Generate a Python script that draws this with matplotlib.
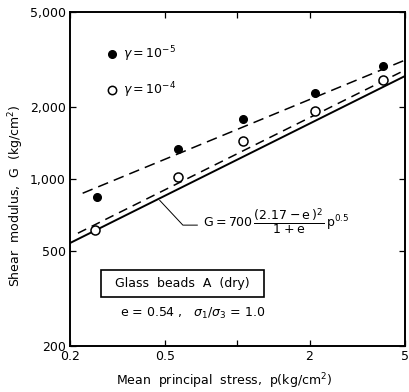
import numpy as np
import matplotlib
matplotlib.use("Agg")
import matplotlib.pyplot as plt
from matplotlib.patches import Rectangle
from matplotlib.ticker import FixedLocator, NullLocator, FixedFormatter

# ── data ──────────────────────────────────────────────────────────────────
p_filled = [0.259, 0.564, 1.05, 2.10, 4.07]      # gamma = 1e-5
G_filled = [840, 1334, 1782, 2290, 2970]
p_open = [0.254, 0.564, 1.06, 2.10, 4.07]        # gamma = 1e-4
G_open = [611, 1019, 1442, 1924, 2594]

# fitted lines (end points)
fit_filled_p = [0.226, 5.0]
fit_filled_G = [873, 3148]
fit_open_p = [0.216, 5.0]
fit_open_G = [594, 2860]
eq_p = [0.2, 5.0]
eq_G = [540, 2700]

# leader from the solid line to the equation
leader_p = [0.474, 0.592, 0.68]
leader_G = [815, 642, 642]

x_ticks = [0.2, 0.5, 1, 2, 5]
x_labels = ["0.2", "0.5", "", "2", "5"]
y_ticks = [200, 500, 1000, 2000, 5000]
y_labels = ["200", "500", "1,000", "2,000", "5,000"]

# ── figure ────────────────────────────────────────────────────────────────
fig = plt.figure(figsize=(4.09, 3.92), dpi=100)
ax = fig.add_axes([0.171, 0.117, 0.819, 0.852])
ax.set_xscale("log")
ax.set_yscale("log")
ax.set_xlim(0.2, 5)
ax.set_ylim(200, 5000)

ax.plot(eq_p, eq_G, color="black", lw=1.4)
ax.plot(fit_filled_p, fit_filled_G, color="black", lw=1.1, dashes=(7, 4))
ax.plot(fit_open_p, fit_open_G, color="black", lw=1.1, dashes=(6, 4))
ax.plot(p_filled, G_filled, "o", color="black", ms=5.5, zorder=3)
ax.plot(p_open, G_open, "o", mfc="white", mec="black", mew=1.1, ms=6.5, zorder=3)
ax.plot(leader_p, leader_G, color="black", lw=0.7)

ax.xaxis.set_major_locator(FixedLocator(x_ticks))
ax.xaxis.set_major_formatter(FixedFormatter(x_labels))
ax.xaxis.set_minor_locator(NullLocator())
ax.yaxis.set_major_locator(FixedLocator(y_ticks))
ax.yaxis.set_major_formatter(FixedFormatter(y_labels))
ax.yaxis.set_minor_locator(NullLocator())
ax.tick_params(direction="in", length=4, width=0.9, labelsize=9,
               top=True, right=True, pad=3)
for s in ax.spines.values():
    s.set_linewidth(1.4)

ax.set_xlabel(r"Mean  principal  stress,  p(kg/cm$^2$)", fontsize=9)
ax.set_ylabel(r"Shear  modulus,  G  (kg/cm$^2$)", fontsize=9)
ax.yaxis.set_label_coords(-0.13, 0.45)
ax.xaxis.set_label_coords(0.46, -0.075)

# legend
ax.plot([0.125], [0.874], "o", color="black", ms=5.5, transform=ax.transAxes)
ax.plot([0.125], [0.766], "o", mfc="white", mec="black", mew=1.1, ms=6,
        transform=ax.transAxes)
ax.text(0.158, 0.874, r"$\gamma = 10^{-5}$", transform=ax.transAxes,
        fontsize=9, va="center")
ax.text(0.158, 0.766, r"$\gamma = 10^{-4}$", transform=ax.transAxes,
        fontsize=9, va="center")

ax.text(0.397, 0.371,
        r"$\mathrm{G} = 700\,\dfrac{(2.17-\mathrm{e}\,)^2}{1+\mathrm{e}}\,\mathrm{p}^{0.5}$",
        transform=ax.transAxes, fontsize=9, va="center", ha="left")

ax.add_patch(Rectangle((0.0925, 0.147), 0.487, 0.081, transform=ax.transAxes,
                       fill=False, lw=1.2, ec="black"))
ax.text(0.336, 0.188, "Glass  beads  A  (dry)", transform=ax.transAxes,
        fontsize=9, ha="center", va="center")
ax.text(0.149, 0.099, r"e = 0.54 ,   $\sigma_1/\sigma_3$ = 1.0",
        transform=ax.transAxes, fontsize=9, ha="left", va="center")

fig.savefig("out.png", dpi=100)
